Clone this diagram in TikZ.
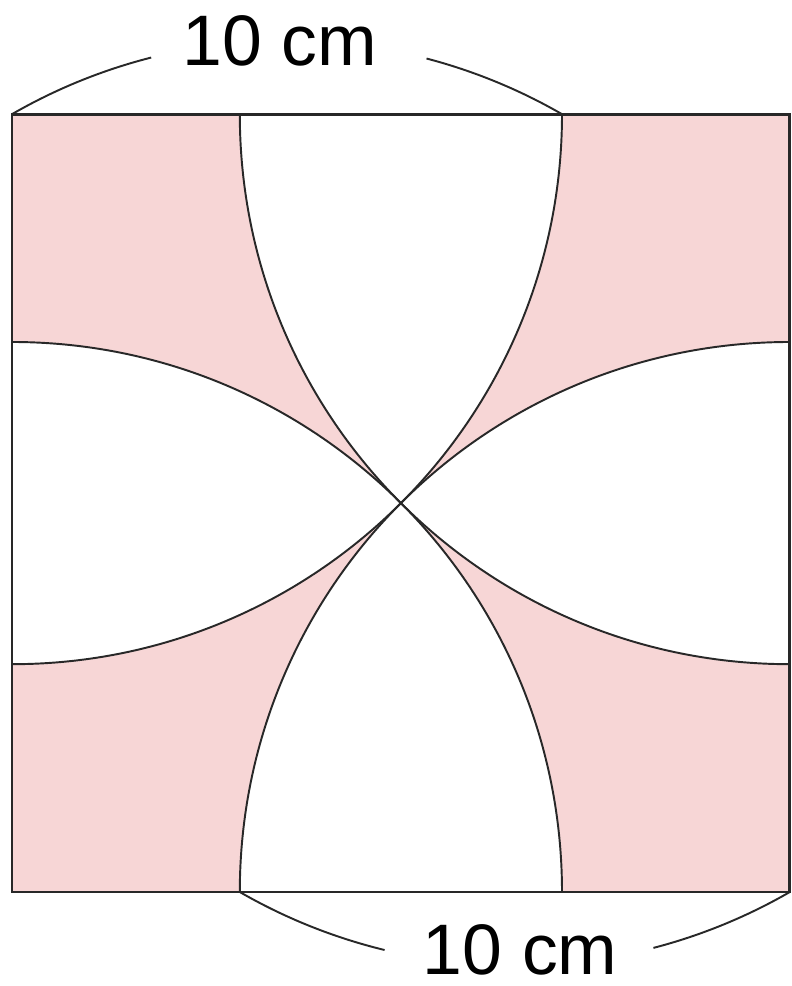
\documentclass[tikz,border=0pt]{standalone}
\usepackage{fontspec}
\setmainfont{Liberation Sans}
\definecolor{pinkfill}{RGB}{247,214,214}
\definecolor{linegray}{RGB}{40,40,40}
\begin{document}
\begin{tikzpicture}[
  arcline/.style={draw=linegray, line width=1pt},
  edgeline/.style={draw=linegray, line width=1.5pt},
  braceline/.style={draw=linegray, line width=1pt},
  lbl/.style={inner sep=0pt, font=\fontsize{37}{40}\selectfont}
]
\pgfmathsetmacro{\s}{14.142}
\pgfmathsetmacro{\h}{7.071}
\useasboundingbox (-0.218,-1.709) rectangle (14.164,16.218);
\coordinate (c) at (\h,\h);
% pink square
\fill[pinkfill] (0,0) rectangle (\s,\s);
% white lenses
\foreach \a in {0,90,180,270}{
  \begin{scope}[rotate around={\a:(c)}]
    \fill[white] (\s-10,\s) -- (10,\s) arc[start angle=0, end angle=-45, radius=10]
      arc[start angle=225, end angle=180, radius=10] -- cycle;
  \end{scope}
}
% quarter circle arcs
\foreach \a in {0,90,180,270}{
  \begin{scope}[rotate around={\a:(c)}]
    \draw[arcline] (10,\s) arc[start angle=0, end angle=-90, radius=10];
  \end{scope}
}
% square outline
\draw[edgeline] (0,0) rectangle (\s,\s);
% top brace
\draw[braceline] (0,\s) arc[start angle=120, end angle=104.3, radius=10];
\draw[braceline] (10,\s) arc[start angle=60, end angle=75.3, radius=10];
\node[lbl] (ltop) at (4.87,15.47) {10 cm};
% bottom brace
\draw[braceline] (\s-10,0) arc[start angle=240, end angle=256.3, radius=10];
\draw[braceline] (\s,0) arc[start angle=300, end angle=284.6, radius=10];
\node[lbl] (lbot) at (9.24,-1.06) {10 cm};
\end{tikzpicture}
\end{document}
